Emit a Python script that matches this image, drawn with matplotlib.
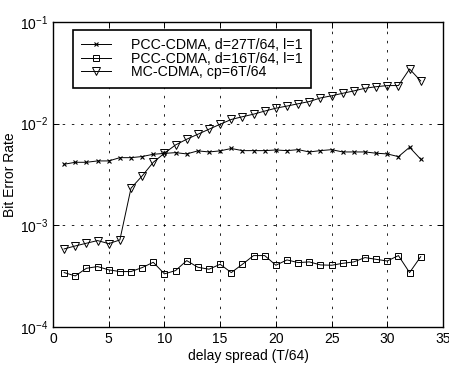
import matplotlib
matplotlib.use("Agg")
import matplotlib.pyplot as plt
import matplotlib.ticker as mticker

plt.rcParams['font.family'] = ['Liberation Sans', 'DejaVu Sans']
plt.rcParams['mathtext.fontset'] = 'custom'
plt.rcParams['mathtext.rm'] = 'Liberation Sans'
plt.rcParams['mathtext.default'] = 'regular'

# delay spread (T/64)
spread = list(range(1, 34))

# PCC-CDMA, d=27T/64
ber_pcc27 = [3.99e-3, 4.17e-3, 4.17e-3, 4.30e-3, 4.30e-3, 4.63e-3, 4.63e-3, 4.75e-3,
             5.00e-3, 5.10e-3, 5.19e-3, 5.04e-3, 5.40e-3, 5.27e-3, 5.40e-3, 5.70e-3,
             5.43e-3, 5.43e-3, 5.43e-3, 5.51e-3, 5.43e-3, 5.55e-3, 5.27e-3, 5.43e-3,
             5.55e-3, 5.27e-3, 5.27e-3, 5.27e-3, 5.12e-3, 5.04e-3, 4.74e-3, 5.86e-3,
             4.47e-3]

# PCC-CDMA, d=16T/64
ber_pcc16 = [3.43e-4, 3.18e-4, 3.78e-4, 3.93e-4, 3.65e-4, 3.51e-4, 3.51e-4, 3.84e-4,
             4.33e-4, 3.33e-4, 3.59e-4, 4.50e-4, 3.87e-4, 3.70e-4, 4.14e-4, 3.43e-4,
             4.14e-4, 5.04e-4, 5.04e-4, 4.05e-4, 4.57e-4, 4.30e-4, 4.37e-4, 4.08e-4,
             4.05e-4, 4.23e-4, 4.37e-4, 4.82e-4, 4.63e-4, 4.46e-4, 5.04e-4, 3.43e-4,
             4.92e-4]

# MC-CDMA, cp=6T/64
ber_mc = [5.86e-4, 6.27e-4, 6.67e-4, 7.08e-4, 6.61e-4, 7.18e-4, 2.32e-3, 3.06e-3,
          4.17e-3, 5.12e-3, 6.18e-3, 7.03e-3, 7.87e-3, 8.82e-3, 9.87e-3, 1.10e-2,
          1.17e-2, 1.24e-2, 1.33e-2, 1.42e-2, 1.49e-2, 1.57e-2, 1.65e-2, 1.79e-2,
          1.88e-2, 1.99e-2, 2.10e-2, 2.23e-2, 2.31e-2, 2.37e-2, 2.37e-2, 3.45e-2,
          2.63e-2]

labels = ["PCC-CDMA, d=27T/64, l=1", "PCC-CDMA, d=16T/64, l=1", "MC-CDMA, cp=6T/64"]

fig = plt.figure(figsize=(4.49, 3.66), dpi=100)
ax = fig.add_axes([53/449, 39/366, 390/449, 305/366])

ax.semilogy(spread, ber_pcc27, '-x', color='black', lw=0.7, ms=3, mew=0.8, label=labels[0])
ax.semilogy(spread, ber_pcc16, '-s', color='black', lw=0.7, ms=5, mew=0.7,
            mfc='none', label=labels[1])
ax.semilogy(spread, ber_mc, '-v', color='black', lw=0.7, ms=5.5, mew=0.7,
            mfc='none', label=labels[2])

ax.set_xlim(0, 35)
ax.set_ylim(1e-4, 1e-1)
ax.set_xticks(range(0, 36, 5))
ax.yaxis.set_major_locator(mticker.LogLocator(base=10, numticks=10))
ax.yaxis.set_minor_locator(mticker.NullLocator())
ax.tick_params(direction='in', top=True, right=True, labelsize=10, length=4, width=0.7)
ax.grid(True, color='black', linestyle=(0, (3, 8)), linewidth=0.6)
for s in ax.spines.values():
    s.set_linewidth(1.0)

ax.set_xlabel("delay spread (T/64)", fontsize=10, labelpad=2)
ax.set_ylabel("Bit Error Rate", fontsize=10, labelpad=2)

leg = ax.legend(loc='upper left', bbox_to_anchor=(0.0505, 0.974), borderaxespad=0,
                fontsize=10.2, fancybox=False, edgecolor='black', framealpha=1,
                labelspacing=-0.05, handlelength=2.1, borderpad=0.6,
                handletextpad=1.4)
leg.get_frame().set_linewidth(1.2)

fig.savefig("out.png", dpi=100)
